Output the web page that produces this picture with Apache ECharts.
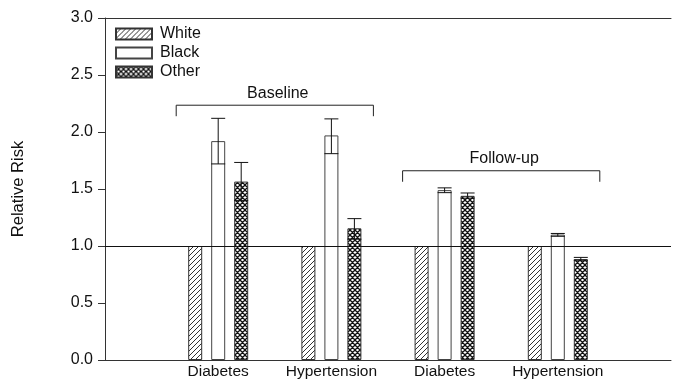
<!DOCTYPE html>
<html>
<head>
<meta charset="utf-8">
<script src="https://cdn.jsdelivr.net/npm/echarts@6/dist/echarts.min.js"></script>
<style>html,body{margin:0;padding:0;background:#fff}#c{width:674px;height:381px}</style>
</head>
<body>
<div id="c"></div>
<script>
// ---- data ----
const categories = ['', 'Diabetes', 'Hypertension', 'Diabetes', 'Hypertension', ''];
const seriesNames = ['White', 'Black', 'Other'];
const whiteRR = ['-', 1.00, 1.00, 1.00, 1.00, '-'];
const blackRR = ['-', 1.92, 1.97, 1.49, 1.10, '-'];
const otherRR = ['-', 1.565, 1.155, 1.44, 0.885, '-'];
const blackLow = [null, 1.72, 1.81, 1.468, 1.085];
const blackHigh = [null, 2.12, 2.115, 1.51, 1.11];
const otherLow = [null, 1.40, 1.06, 1.42, 0.875];
const otherHigh = [null, 1.733, 1.24, 1.465, 0.90];
const yTicks = ['0.0', '0.5', '1.0', '1.5', '2.0', '2.5', '3.0'];
const bracketNames = ['Baseline', 'Follow-up'];
const bracketFrom = [1, 3];
const bracketTo = [2, 4];
const referenceRR = 1.0;

// ---- styles ----
const BAR_W = 14, GAP = 9;
const FONT = 'Liberation Sans, Arial, sans-serif';

function makePattern(kind) {
  const n = 5;
  const c = document.createElement('canvas');
  c.width = n; c.height = n;
  const g = c.getContext('2d');
  g.fillStyle = '#fff';
  g.fillRect(0, 0, n, n);
  g.strokeStyle = kind === 'hatch' ? '#333' : '#111';
  g.lineWidth = kind === 'hatch' ? 1 : 1.3;
  g.beginPath();
  for (let k = -1; k <= 1; k++) {
    g.moveTo(k * n, n); g.lineTo(k * n + n, 0);
    if (kind === 'cross') { g.moveTo(k * n, 0); g.lineTo(k * n + n, n); }
  }
  g.stroke();
  return { image: c, repeat: 'repeat' };
}

function errData(low, high) {
  const out = [];
  for (let i = 1; i < low.length; i++) out.push([i, low[i], high[i]]);
  return out;
}

function errSeries(name, low, high, offset) {
  return {
    type: 'custom',
    name: name + ' err',
    z: 5,
    silent: true,
    encode: { x: 0, y: [1, 2] },
    data: errData(low, high),
    renderItem: function (params, api) {
      const x = api.value(0);
      const lo = api.coord([x, api.value(1)]);
      const hi = api.coord([x, api.value(2)]);
      const cx = lo[0] + offset;
      const half = BAR_W / 2;
      const st = { stroke: '#111', lineWidth: 1 };
      return {
        type: 'group',
        children: [
          { type: 'line', shape: { x1: cx, y1: lo[1], x2: cx, y2: hi[1] }, style: st },
          { type: 'line', shape: { x1: cx - half, y1: lo[1], x2: cx + half, y2: lo[1] }, style: st },
          { type: 'line', shape: { x1: cx - half, y1: hi[1], x2: cx + half, y2: hi[1] }, style: st }
        ]
      };
    }
  };
}

const bracketLevel = [2.235, 1.66];
const bracketData = bracketNames.map((n, i) => [bracketFrom[i], bracketTo[i], bracketLevel[i], n]);

const chart = echarts.init(document.getElementById('c'), null, { renderer: 'canvas' });
chart.setOption({
  animation: false,
  backgroundColor: '#fff',
  textStyle: { fontFamily: FONT },
  grid: { left: 105, right: -2, top: 18, bottom: 21 },
  legend: {
    data: seriesNames,
    orient: 'vertical',
    left: 115, top: 26,
    padding: 0,
    itemWidth: 36, itemHeight: 11, itemGap: 3,
    icon: 'rect',
    textStyle: { fontSize: 16, color: '#111', fontFamily: FONT, padding: [0, 0, 0, 3] }
  },
  xAxis: [{
    type: 'category',
    data: categories,
    boundaryGap: false,
    axisLine: { lineStyle: { color: '#333', width: 1 } },
    axisTick: { show: false },
    axisLabel: { fontSize: 15.5, color: '#111', margin: 4, fontFamily: FONT, interval: 0 },
    splitLine: { show: false }
  }, {
    type: 'category',
    data: categories,
    boundaryGap: false,
    position: 'top',
    axisLine: { lineStyle: { color: '#333', width: 1 } },
    axisTick: { show: false },
    axisLabel: { show: false }
  }],
  yAxis: {
    type: 'value',
    min: 0, max: 3, interval: 0.5,
    name: 'Relative Risk',
    nameLocation: 'middle',
    nameGap: 78,
    nameTextStyle: { fontSize: 16.5, color: '#111', fontFamily: FONT },
    axisLine: { show: true, lineStyle: { color: '#333', width: 1 } },
    axisTick: { show: true, inside: false, length: 7, lineStyle: { color: '#333' } },
    axisLabel: { fontSize: 16, color: '#111', margin: 12, fontFamily: FONT,
      formatter: v => yTicks[Math.round(v / 0.5)] },
    splitLine: { show: false }
  },
  series: [
    {
      name: 'White', type: 'bar', data: whiteRR, barWidth: BAR_W, barGap: (GAP / BAR_W * 100) + '%',
      itemStyle: { color: makePattern('hatch'), borderColor: '#333', borderWidth: 1 },
      markLine: {
        silent: true, symbol: 'none', label: { show: false },
        lineStyle: { color: '#111', type: 'solid', width: 1 },
        data: [{ yAxis: referenceRR }]
      },
      z: 2
    },
    {
      name: 'Black', type: 'bar', data: blackRR, barWidth: BAR_W, barGap: (GAP / BAR_W * 100) + '%',
      itemStyle: { color: '#fff', borderColor: '#444', borderWidth: 1 }, z: 2
    },
    {
      name: 'Other', type: 'bar', data: otherRR, barWidth: BAR_W, barGap: (GAP / BAR_W * 100) + '%',
      itemStyle: { color: makePattern('cross'), borderColor: '#333', borderWidth: 1 }, z: 2
    },
    errSeries('Black', blackLow, blackHigh, 0),
    errSeries('Other', otherLow, otherHigh, BAR_W + GAP),
    {
      type: 'custom',
      name: 'brackets',
      silent: true,
      z: 6,
      encode: { x: [0, 1], y: 2 },
      data: bracketData,
      renderItem: function (params, api) {
        const a = api.coord([api.value(0), api.value(2)]);
        const b = api.coord([api.value(1), api.value(2)]);
        const pad = 42, drop = 11;
        const x1 = a[0] - pad, x2 = b[0] + pad, y = a[1];
        const st = { stroke: '#222', lineWidth: 1 };
        return {
          type: 'group',
          children: [
            { type: 'line', shape: { x1: x1, y1: y, x2: x2, y2: y }, style: st },
            { type: 'line', shape: { x1: x1, y1: y, x2: x1, y2: y + drop }, style: st },
            { type: 'line', shape: { x1: x2, y1: y, x2: x2, y2: y + drop }, style: st },
            { type: 'text', style: { text: bracketData[params.dataIndex][3], x: (x1 + x2) / 2 + 3, y: y - 12,
              align: 'center', verticalAlign: 'middle', fontSize: 16, fontFamily: FONT, fill: '#111' } }
          ]
        };
      }
    }
  ]
});
</script>
</body>
</html>
